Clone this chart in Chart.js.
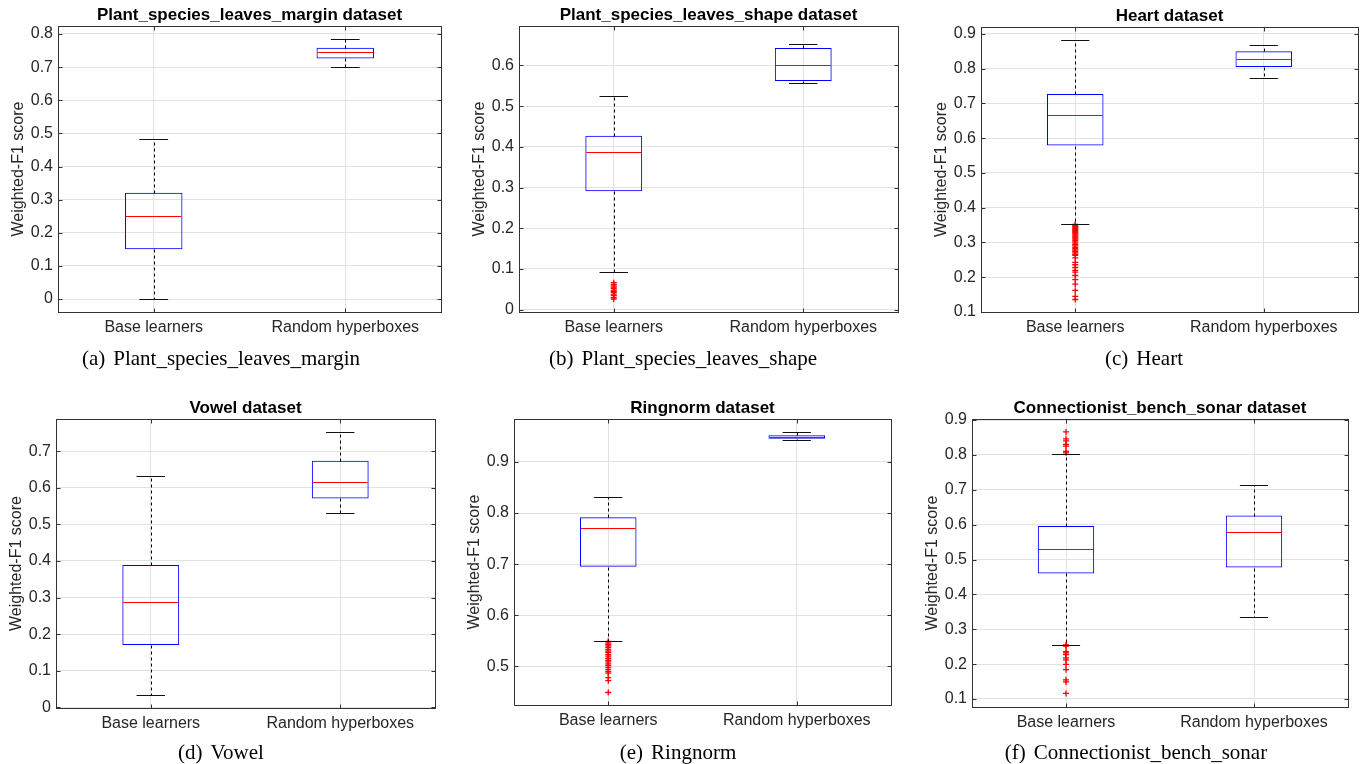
<!DOCTYPE html>
<html><head><meta charset="utf-8">
<script src="https://cdn.jsdelivr.net/npm/chart.js@4.4.1/dist/chart.umd.min.js"></script>
<style>
html,body{margin:0;padding:0;background:#fff;width:1362px;height:764px;overflow:hidden;position:relative;}
canvas{position:absolute;}
.cap{position:absolute;font-family:'Liberation Serif','Times New Roman',serif;font-size:21px;line-height:24px;white-space:nowrap;transform:translateX(-50%);color:#000;}
.cap span{margin-right:8px;}
</style></head><body>
<script>
// ---------------- DATA ----------------
const categories = ['Base learners', 'Random hyperboxes'];
// each stats array: [lower whisker, Q1, median, Q3, upper whisker]

const marginBase = [0.000, 0.150, 0.252, 0.321, 0.482];
const marginRandom = [0.701, 0.726, 0.746, 0.758, 0.784];
const marginOutliers = [];
const marginYLim = [-0.039, 0.824];
const marginYTicks = [0, 0.1, 0.2, 0.3, 0.4, 0.5, 0.6, 0.7, 0.8];

const shapeBase = [0.0915, 0.291, 0.388, 0.427, 0.5245];
const shapeRandom = [0.558, 0.562, 0.600, 0.643, 0.652];
const shapeOutliers = [0.066, 0.062, 0.058, 0.055, 0.052, 0.048, 0.045, 0.042, 0.038, 0.035, 0.030, 0.026];
const shapeYLim = [-0.006, 0.697];
const shapeYTicks = [0, 0.1, 0.2, 0.3, 0.4, 0.5, 0.6];

const heartBase = [0.353, 0.579, 0.667, 0.727, 0.883];
const heartRandom = [0.774, 0.805, 0.829, 0.850, 0.868];
const heartOutliers = [0.352, 0.349, 0.346, 0.343, 0.340, 0.337, 0.334, 0.331, 0.328, 0.325, 0.322, 0.319, 0.316, 0.313, 0.310, 0.306, 0.302, 0.298, 0.294, 0.290, 0.286, 0.282, 0.278, 0.274, 0.270, 0.266, 0.263, 0.256, 0.243, 0.236, 0.228, 0.220, 0.215, 0.205, 0.193, 0.180, 0.162, 0.145, 0.136];
const heartYLim = [0.1, 0.92];
const heartYTicks = [0.1, 0.2, 0.3, 0.4, 0.5, 0.6, 0.7, 0.8, 0.9];

const vowelBase = [0.033, 0.170, 0.288, 0.389, 0.632];
const vowelRandom = [0.531, 0.571, 0.617, 0.674, 0.752];
const vowelOutliers = [];
const vowelYLim = [-0.002, 0.788];
const vowelYTicks = [0, 0.1, 0.2, 0.3, 0.4, 0.5, 0.6, 0.7];

const ringBase = [0.5497, 0.695, 0.771, 0.7916, 0.8315];
const ringRandom = [0.942, 0.9456, 0.949, 0.952, 0.958];
const ringOutliers = [0.549, 0.546, 0.543, 0.540, 0.537, 0.533, 0.530, 0.527, 0.523, 0.520, 0.516, 0.512, 0.509, 0.505, 0.502, 0.498, 0.494, 0.490, 0.487, 0.478, 0.472, 0.449];
const ringYLim = [0.4245, 0.984];
const ringYTicks = [0.5, 0.6, 0.7, 0.8, 0.9];

const sonarBase = [0.255, 0.460, 0.529, 0.596, 0.8016];
const sonarRandom = [0.334, 0.477, 0.579, 0.626, 0.7125];
const sonarOutliers = [0.866, 0.846, 0.840, 0.830, 0.825, 0.810, 0.806, 0.255, 0.252, 0.236, 0.232, 0.227, 0.218, 0.212, 0.199, 0.184, 0.155, 0.149, 0.116];
const sonarYLim = [0.077, 0.903];
const sonarYTicks = [0.1, 0.2, 0.3, 0.4, 0.5, 0.6, 0.7, 0.8, 0.9];

const titles = ['Plant_species_leaves_margin dataset', 'Plant_species_leaves_shape dataset', 'Heart dataset', 'Vowel dataset', 'Ringnorm dataset', 'Connectionist_bench_sonar dataset'];
const captionLetters = ['(a)', '(b)', '(c)', '(d)', '(e)', '(f)'];
const captionNames = ['Plant_species_leaves_margin', 'Plant_species_leaves_shape', 'Heart', 'Vowel', 'Ringnorm', 'Connectionist_bench_sonar'];
const yAxisTitle = 'Weighted-F1 score';

// ---------------- LAYOUT ----------------
// plot area [left, top, width, height] in page pixels
const plotRects = [[58, 26, 383, 286], [519, 26, 379, 286], [981, 27, 377, 285], [56, 419, 379, 289], [514, 419, 377, 286], [972, 419, 376, 288]];
const captionPos = [[221, 346], [683, 346], [1144, 346], [221, 740], [678, 740], [1136, 740]];
const Y_W = 56, TOP_H = 26, X_H = 40, RIGHT_PAD = 6;

Chart.defaults.font.family = "'Liberation Sans', Arial, Helvetica, sans-serif";
Chart.defaults.color = '#262626';

const px = v => Math.round(v) + 0.5;

const boxPlugin = {
  id: 'boxWhisker',
  afterDatasetsDraw(chart, args, opts) {
    const {ctx} = chart; const x = chart.scales.x, y = chart.scales.y;
    ctx.save();
    ctx.lineWidth = 1;
    const seg = (x1, y1, x2, y2) => { ctx.beginPath(); ctx.moveTo(x1, y1); ctx.lineTo(x2, y2); ctx.stroke(); };
    opts.stats.forEach((s, i) => {
      const cx = px(x.getPixelForValue(i));
      const capL = x.getPixelForValue(i - 0.075), capR = x.getPixelForValue(i + 0.075);
      const boxL = x.getPixelForValue(i - 0.15), boxR = x.getPixelForValue(i + 0.15);
      const [lo, q1, med, q3, hi] = s.map(v => px(y.getPixelForValue(v)));
      ctx.strokeStyle = '#000';
      ctx.setLineDash([3, 3]);
      seg(cx, q3, cx, hi); seg(cx, q1, cx, lo);
      ctx.setLineDash([]);
      ctx.strokeStyle = '#111';
      seg(capL, hi, capR, hi); seg(capL, lo, capR, lo);
      ctx.strokeStyle = '#ff0000';
      seg(boxL + 1, med, boxR - 1, med);
    });
    ctx.restore();
  },
  afterDraw(chart) {
    const {ctx, chartArea: a} = chart; const x = chart.scales.x, y = chart.scales.y;
    ctx.save();
    ctx.strokeStyle = '#333'; ctx.lineWidth = 1;
    const l = px(a.left), r = px(a.right), t = px(a.top), b = px(a.bottom);
    ctx.strokeRect(l, t, r - l, b - t);
    ctx.beginPath();
    y.ticks.forEach(tk => { const yy = px(y.getPixelForValue(tk.value)); ctx.moveTo(l, yy); ctx.lineTo(l + 4, yy); ctx.moveTo(r, yy); ctx.lineTo(r - 4, yy); });
    x.ticks.forEach((tk, i) => { const xx = px(x.getPixelForValue(i)); ctx.moveTo(xx, b); ctx.lineTo(xx, b - 4); ctx.moveTo(xx, t); ctx.lineTo(xx, t + 4); });
    ctx.stroke();
    ctx.restore();
  }
};

const panels = [
  [marginBase, marginRandom, marginOutliers, marginYLim, marginYTicks],
  [shapeBase, shapeRandom, shapeOutliers, shapeYLim, shapeYTicks],
  [heartBase, heartRandom, heartOutliers, heartYLim, heartYTicks],
  [vowelBase, vowelRandom, vowelOutliers, vowelYLim, vowelYTicks],
  [ringBase, ringRandom, ringOutliers, ringYLim, ringYTicks],
  [sonarBase, sonarRandom, sonarOutliers, sonarYLim, sonarYTicks]
];

panels.forEach((p, k) => {
  const [base, rnd, outl, ylim, yticks] = p;
  const [L, T, W, H] = plotRects[k];
  const cv = document.createElement('canvas');
  const cw = W + Y_W + RIGHT_PAD, ch = H + TOP_H + X_H;
  cv.width = cw; cv.height = ch;
  cv.style.width = cw + 'px'; cv.style.height = ch + 'px';
  cv.style.left = (L - Y_W) + 'px'; cv.style.top = (T - TOP_H) + 'px';
  document.body.appendChild(cv);

  new Chart(cv.getContext('2d'), {
    type: 'bar',
    data: {
      labels: categories,
      datasets: [
        {
          type: 'bar',
          data: [[base[1], base[3]], [rnd[1], rnd[3]]],
          backgroundColor: 'rgba(0,0,0,0)',
          borderColor: '#0000ff',
          borderWidth: 1,
          borderSkipped: false,
          barPercentage: 0.3,
          categoryPercentage: 1
        },
        {
          type: 'line',
          showLine: false,
          data: outl.map(v => ({x: categories[0], y: v})),
          pointStyle: 'cross',
          pointRadius: 3,
          pointBorderWidth: 1.3,
          pointBorderColor: '#ff0000',
          pointBackgroundColor: '#ff0000'
        }
      ]
    },
    options: {
      responsive: false,
      animation: false,
      devicePixelRatio: 1,
      layout: {padding: {left: 0, right: RIGHT_PAD, top: 0, bottom: 0}},
      plugins: {
        legend: {display: false},
        tooltip: {enabled: false},
        title: {
          display: true, text: titles[k], fullSize: false, color: '#000',
          font: {size: 17, weight: 'bold'}, padding: {top: 5, bottom: 0.6}
        },
        boxWhisker: {stats: [base, rnd]}
      },
      scales: {
        x: {
          type: 'category',
          offset: true,
          afterFit: s => { s.height = X_H; },
          grid: {display: true, offset: false, color: '#e2e2e2', drawTicks: false},
          border: {display: false},
          ticks: {font: {size: 16}, padding: 6, color: '#262626', maxRotation: 0, autoSkip: false}
        },
        y: {
          type: 'linear',
          min: ylim[0], max: ylim[1],
          afterFit: s => { s.width = Y_W; },
          afterBuildTicks: s => { s.ticks = yticks.map(v => ({value: v})); },
          grid: {color: '#e2e2e2', drawTicks: false},
          border: {display: false},
          ticks: {font: {size: 16}, padding: 5, color: '#262626', callback: v => (v === 0 ? '0' : v.toFixed(1))},
          title: {display: true, text: yAxisTitle, font: {size: 16}, color: '#262626', padding: {top: 7.4, bottom: 0}}
        }
      }
    },
    plugins: [boxPlugin]
  });

  const cap = document.createElement('div');
  cap.className = 'cap';
  cap.style.left = captionPos[k][0] + 'px';
  cap.style.top = captionPos[k][1] + 'px';
  const sp = document.createElement('span');
  sp.textContent = captionLetters[k];
  cap.appendChild(sp);
  cap.appendChild(document.createTextNode(captionNames[k]));
  document.body.appendChild(cap);
});
</script>
</body></html>
